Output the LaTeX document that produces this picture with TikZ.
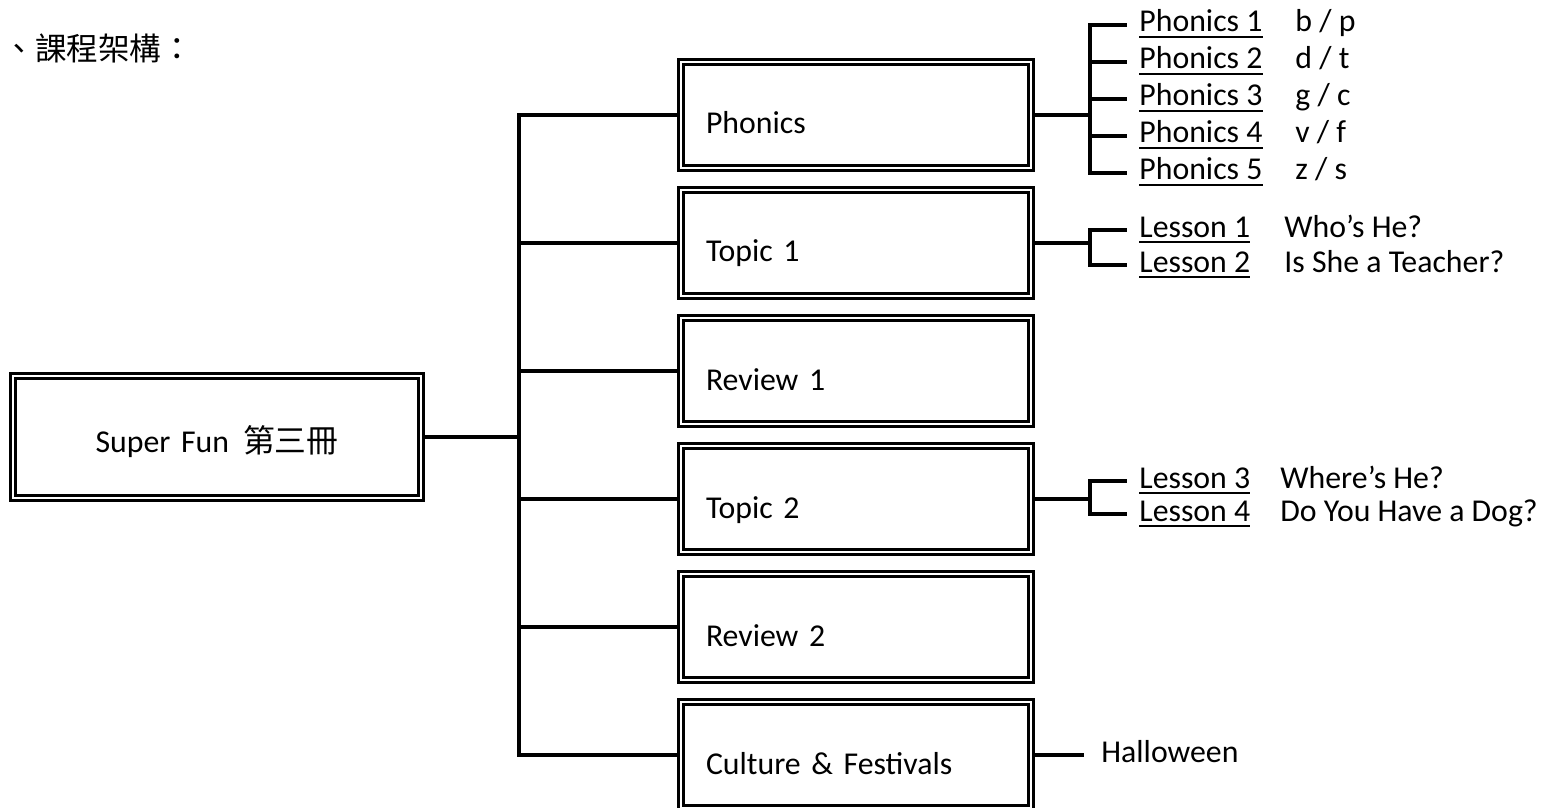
\documentclass[tikz,border=0pt]{standalone}
\usepackage{fontspec}
\setmainfont{Carlito}
\newfontfamily\cjk{Noto Sans CJK TC}
\usetikzlibrary{positioning}

\newcommand\ulbox[1]{\setbox0\hbox{#1}\rlap{\rule[-3.1pt]{\wd0}{1.1pt}}\box0}

\begin{document}
\begin{tikzpicture}[
        x=0.5pt, y=-0.5pt,
        node distance=11pt,
        every node/.style={font=\fontsize{15.9}{18}\selectfont},
        box/.style={draw, line width=1.3pt, double=white, double distance=1pt, outer sep=0pt, minimum width=175pt, minimum height=53pt, text width=150pt, align=left, inner xsep=12.5pt, text height=19pt, text depth=0pt},
        rootbox/.style={box, minimum width=204pt, minimum height=61pt, text width=179pt, align=center, text height=15pt},
        leaf/.style={anchor=west, inner xsep=6pt, inner ysep=0pt, text height=7pt, text depth=0pt},
        desc/.style={leaf, inner xsep=0pt},
        link/.style={line width=1.6pt}
    ]
    \useasboundingbox (0,0) rectangle (1544,808);

    % Nodes
    \node[anchor=base west, inner sep=0pt, font=\cjk\fontsize{15.8}{18}\selectfont] (title) at (3,61) {、課程架構：};

    \node[rootbox] (root) at (217,437) {Super Fun\hspace{7pt}{\cjk 第三冊}};

    \node[box] (phon) at (856,115) {Phonics};
    \node[box, below=of phon] (top1) {Topic 1};
    \node[box, below=of top1] (rev1) {Review 1};
    \node[box, below=of rev1] (top2) {Topic 2};
    \node[box, below=of top2] (rev2) {Review 2};
    \node[box, below=of rev2] (cult) {Culture \& Festivals};

    \foreach \i/\y/\s in {1/25/{b / p}, 2/62/{d / t}, 3/99/{g / c}, 4/136/{v / f}, 5/173/{z / s}} {
        \node[leaf] (ph\i) at (1127,\y) {\ulbox{Phonics \i}};
        \node[desc] (phd\i) at (1295,\y) {\s};
    }

    \node[leaf] (les1) at (1127,230) {\ulbox{Lesson 1}};
    \node[desc] (lesd1) at (1284,230) {Who’s He?};
    \node[leaf] (les2) at (1127,265) {\ulbox{Lesson 2}};
    \node[desc] (lesd2) at (1284,265) {Is She a Teacher?};

    \node[leaf] (les3) at (1127,481) {\ulbox{Lesson 3}};
    \node[desc] (lesd3) at (1280,481) {Where’s He?};
    \node[leaf] (les4) at (1127,514) {\ulbox{Lesson 4}};
    \node[desc] (lesd4) at (1280,514) {Do You Have a Dog?};

    \node[leaf, inner xsep=8.5pt] (hall) at (1084,755) {Halloween};

    % Edges
    \coordinate (tk) at (519,437);
    \draw[link, shorten <=1.5pt] (root) -- (tk);
    \foreach \b in {phon,top1,rev1,top2,rev2,cult}
        \draw[link, shorten <=1.5pt] (\b.west) -| (tk);

    \coordinate[right=29.5pt of phon.east] (pb);
    \draw[link, shorten <=1.5pt] (phon.east) -- (pb);
    \foreach \i in {1,...,5}
        \draw[link] (pb) |- (ph\i.west);

    \coordinate[right=29.5pt of top1.east] (lb1);
    \draw[link, shorten <=1.5pt] (top1.east) -- (lb1);
    \draw[link] (lb1) |- (les1.west);
    \draw[link] (lb1) |- (les2.west);

    \coordinate[right=29.5pt of top2.east] (lb2);
    \draw[link, shorten <=1.5pt] (top2.east) -- (lb2);
    \draw[link] (lb2) |- (les3.west);
    \draw[link] (lb2) |- (les4.west);

    \draw[link, shorten <=1.5pt] (cult.east) -- (hall.west);

\end{tikzpicture}
\end{document}
